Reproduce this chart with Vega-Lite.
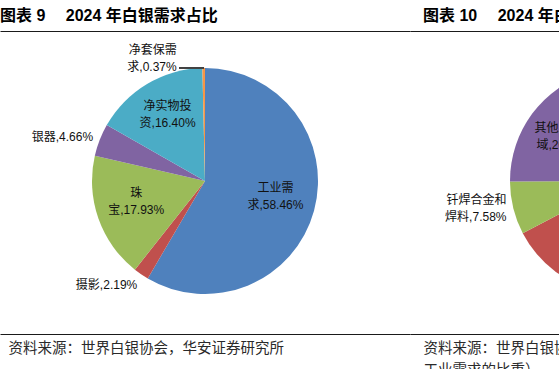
{
  "$schema": "https://vega.github.io/schema/vega-lite/v6.json",
  "padding": {"top": 8, "left": 0, "right": 0, "bottom": 0},
  "spacing": 0,
  "bounds": "flush",
  "background": "white",
  "config": {
    "view": {"stroke": null},
    "title": {"font": "Liberation Sans, Noto Sans CJK SC", "fontSize": 16, "fontWeight": "bold", "color": "#000", "anchor": "start", "offset": 7},
    "axis": {"minExtent": 0, "maxExtent": 0},
    "text": {"font": "Liberation Sans, Noto Sans CJK SC", "fontSize": 12, "lineHeight": 17, "lineBreak": "\n"}
  },
  "hconcat": [
    {
      "width": 410,
      "height": 303,
      "title": {"text": "图表 9\u3000 2024 年白银需求占比"},
      "data": {"values": [
        {"category": "工业需求", "share": 58.46, "rank": 1, "label": "工业需\n求,58.46%"},
        {"category": "摄影", "share": 2.19, "rank": 2, "label": "摄影,2.19%"},
        {"category": "珠宝", "share": 17.93, "rank": 3, "label": "珠\n宝,17.93%"},
        {"category": "银器", "share": 4.66, "rank": 4, "label": "银器,4.66%"},
        {"category": "净实物投资", "share": 16.40, "rank": 5, "label": "净实物投\n资,16.40%"},
        {"category": "净套保需求", "share": 0.37, "rank": 6, "label": "净套保需\n求,0.37%"}
      ]},
      "encoding": {
        "x": {"datum": 0.5, "type": "quantitative", "scale": {"domain": [0, 1], "nice": false},
          "axis": {"orient": "bottom", "domain": false, "ticks": false, "labels": false, "grid": false,
            "title": "资料来源：世界白银协会，华安证券研究所", "titleAnchor": "start", "titleAlign": "left", "titleX": 8, "titleY": 18,
            "titleBaseline": "alphabetic", "titleFont": "Noto Sans CJK SC", "titleFontSize": 14.5, "titleFontWeight": "normal", "titleColor": "#2a2a2a"}},
        "y": {"datum": 0.505, "type": "quantitative", "scale": {"domain": [0, 1], "nice": false},
          "axis": {"orient": "left", "domain": false, "ticks": false, "labels": false, "grid": true, "values": [0, 1], "gridColor": "#1a1a1a", "gridWidth": 1, "title": null}}
      },
      "layer": [
        {
          "mark": {"type": "arc", "outerRadius": 113},
          "encoding": {
            "theta": {"field": "share", "type": "quantitative", "stack": true},
            "order": {"field": "rank", "type": "quantitative"},
            "color": {"field": "category", "type": "nominal", "legend": null,
              "scale": {"domain": ["工业需求", "摄影", "珠宝", "银器", "净实物投资", "净套保需求"],
                "range": ["#4F81BD", "#C0504D", "#9BBB59", "#8064A2", "#4BACC6", "#F79646"]}}
          }
        },
        {
          "mark": {"type": "text", "radius": 73, "align": "center", "baseline": "middle", "dy": -12},
          "encoding": {
            "theta": {"field": "share", "type": "quantitative", "stack": true},
            "order": {"field": "rank", "type": "quantitative"},
            "detail": {"field": "category"},
            "color": {"value": "#111"},
            "text": {"condition": {"test": "indexof(['工业需求','珠宝','净实物投资'], datum.category) >= 0", "field": "label"}, "value": ""}
          }
        },
        {
          "mark": {"type": "text", "radius": 120, "align": "right", "baseline": "top"},
          "encoding": {
            "theta": {"field": "share", "type": "quantitative", "stack": true},
            "order": {"field": "rank", "type": "quantitative"},
            "detail": {"field": "category"},
            "color": {"value": "#111"},
            "text": {"condition": {"test": "datum.category == '摄影'", "field": "label"}, "value": ""}
          }
        },
        {
          "mark": {"type": "text", "radius": 120, "align": "right", "baseline": "middle"},
          "encoding": {
            "theta": {"field": "share", "type": "quantitative", "stack": true},
            "order": {"field": "rank", "type": "quantitative"},
            "detail": {"field": "category"},
            "color": {"value": "#111"},
            "text": {"condition": {"test": "datum.category == '银器'", "field": "label"}, "value": ""}
          }
        },
        {
          "mark": {"type": "text", "radius": 113, "align": "right", "baseline": "bottom", "dx": -27, "dy": -11},
          "encoding": {
            "theta": {"field": "share", "type": "quantitative", "stack": true},
            "order": {"field": "rank", "type": "quantitative"},
            "detail": {"field": "category"},
            "color": {"value": "#111"},
            "text": {"condition": {"test": "datum.category == '净套保需求'", "field": "label"}, "value": ""}
          }
        },
        {
          "mark": {"type": "rule", "color": "#404040", "strokeWidth": 1},
          "encoding": {
            "x": {"datum": 0.4366, "type": "quantitative"},
            "x2": {"datum": 0.4976},
            "y": {"datum": 0.878, "type": "quantitative"}
          }
        }
      ]
    },
    {
      "width": 426,
      "height": 303,
      "title": {"text": "图表 10\u3000 2024 年白银工业需求结构", "dx": 13},
      "data": {"values": [
        {"category": "电子电气", "share": 39.05, "rank": 1, "label": "电子电气,39.05%"},
        {"category": "光伏", "share": 28.31, "rank": 2, "label": "光伏,28.31%"},
        {"category": "钎焊合金和焊料", "share": 7.58, "rank": 3, "label": "钎焊合金和\n焊料,7.58%"},
        {"category": "其他工业领域", "share": 20.46, "rank": 4, "label": "其他工业领\n域,20.46%"},
        {"category": "乙烯", "share": 4.60, "rank": 5, "label": "乙烯,4.60%"}
      ]},
      "encoding": {
        "x": {"datum": 0.5, "type": "quantitative", "scale": {"domain": [0, 1], "nice": false},
          "axis": {"orient": "bottom", "domain": false, "ticks": false, "labels": false, "grid": false,
            "title": ["资料来源：世界白银协会，华安证券研究所（注：图中为各领域占", "工业需求的比重）"], "titleAnchor": "start", "titleAlign": "left", "titleX": 13, "titleY": 18, "titleLineHeight": 22,
            "titleBaseline": "alphabetic", "titleFont": "Noto Sans CJK SC", "titleFontSize": 14.5, "titleFontWeight": "normal", "titleColor": "#2a2a2a"}},
        "y": {"datum": 0.505, "type": "quantitative", "scale": {"domain": [0, 1], "nice": false},
          "axis": {"orient": "left", "domain": false, "ticks": false, "labels": false, "grid": true, "values": [0, 1], "gridColor": "#1a1a1a", "gridWidth": 1, "title": null}}
      },
      "layer": [
        {
          "mark": {"type": "arc", "outerRadius": 113},
          "encoding": {
            "theta": {"field": "share", "type": "quantitative", "stack": true},
            "order": {"field": "rank", "type": "quantitative"},
            "color": {"field": "category", "type": "nominal", "legend": null,
              "scale": {"domain": ["电子电气", "光伏", "钎焊合金和焊料", "其他工业领域", "乙烯"],
                "range": ["#4F81BD", "#C0504D", "#9BBB59", "#8064A2", "#4BACC6"]}}
          }
        },
        {
          "mark": {"type": "text", "radius": 73, "align": "center", "baseline": "middle", "dy": -9},
          "encoding": {
            "theta": {"field": "share", "type": "quantitative", "stack": true},
            "order": {"field": "rank", "type": "quantitative"},
            "detail": {"field": "category"},
            "color": {"value": "#111"},
            "text": {"condition": {"test": "indexof(['电子电气','光伏','其他工业领域'], datum.category) >= 0", "field": "label"}, "value": ""}
          }
        },
        {
          "mark": {"type": "text", "radius": 120, "align": "right", "baseline": "middle", "dy": -10},
          "encoding": {
            "theta": {"field": "share", "type": "quantitative", "stack": true},
            "order": {"field": "rank", "type": "quantitative"},
            "detail": {"field": "category"},
            "color": {"value": "#111"},
            "text": {"condition": {"test": "datum.category == '钎焊合金和焊料'", "field": "label"}, "value": ""}
          }
        },
        {
          "mark": {"type": "text", "radius": 120, "align": "left", "baseline": "bottom"},
          "encoding": {
            "theta": {"field": "share", "type": "quantitative", "stack": true},
            "order": {"field": "rank", "type": "quantitative"},
            "detail": {"field": "category"},
            "color": {"value": "#111"},
            "text": {"condition": {"test": "datum.category == '乙烯'", "field": "label"}, "value": ""}
          }
        }
      ]
    }
  ]
}
